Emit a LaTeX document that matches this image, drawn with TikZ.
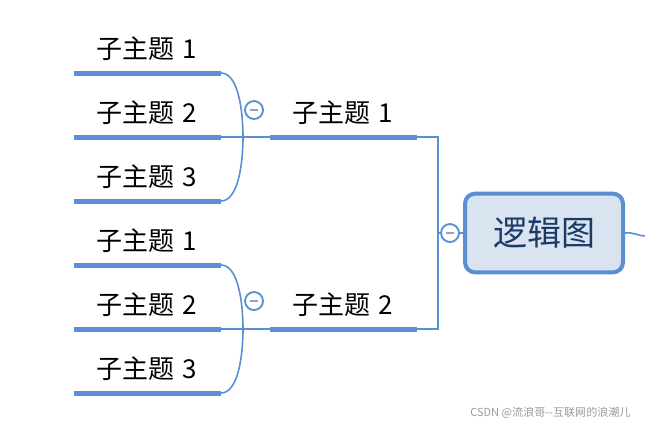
\documentclass[tikz,border=0pt]{standalone}
\usepackage{fontspec}
\newfontfamily\cjk{Noto Sans CJK SC}
\definecolor{lineblue}{HTML}{5A8FD4}
\definecolor{boxfill}{HTML}{DAE4F1}
\definecolor{textblue}{HTML}{1B3A66}
\definecolor{minusgray}{HTML}{9A9CC4}
\definecolor{wmgray}{HTML}{9A9A9A}
\begin{document}
\begin{tikzpicture}[x=0.75pt,y=-0.75pt,
  thickln/.style={line width=3.75pt, draw=lineblue},
  thinln/.style={line width=1.2pt, draw=lineblue},
  leaftext/.style={font=\cjk\fontsize{19.5}{22}\selectfont, inner sep=0pt, text=black},
  collapse/.style={circle, draw=lineblue, line width=1.4pt, fill=white, minimum size=13.5pt, inner sep=0pt,
    path picture={\draw[minusgray, line width=1.3pt] ([xshift=-3pt]path picture bounding box.center) -- ([xshift=3pt]path picture bounding box.center);}},
  central/.style={draw=lineblue, line width=3pt, fill=boxfill, rounded corners=7.5pt,
    minimum width=118.5pt, minimum height=59pt, inner sep=0pt,
    font=\cjk\fontsize{25.5}{30}\selectfont, text=textblue},
  watermark/.style={font=\cjk\fontsize{8.3}{10}\selectfont, text=wmgray, inner sep=0pt}
]
\useasboundingbox (0,0) rectangle (645,429);

% central topic
\node[central] (root) at (544,233) {逻辑图};

% mid branches
\foreach \n/\y/\t in {m1/137/1, m2/329/2} {
  \coordinate (\n s) at (270,\y);
  \coordinate (\n e) at (417,\y);
  \node[leaftext] (\n t) at (343,{\y-24}) {子主题\hspace{0.3em}\t};
}
\draw[thickln] (m1s) -- (m1e);
\draw[thickln] (m2s) -- (m2e);

% leaves
\foreach \n/\y/\t in {a1/73/1, a2/137/2, a3/201/3, b1/265/1, b2/329/2, b3/393/3} {
  \coordinate (\n s) at (74,\y);
  \coordinate (\n e) at (221,\y);
  \node[leaftext] (\n t) at (147,{\y-24.5}) {子主题\hspace{0.3em}\t};
  \draw[thickln] (\n s) -- (\n e);
}

% brackets from leaves to mid branches
\draw[thinln] (a1e) .. controls (238,73) and (243,110) .. (243,137) .. controls (243,164) and (238,201) .. (a3e);
\draw[thinln] (a2e) -- (m1s);
\draw[thinln] (b1e) .. controls (238,265) and (243,302) .. (243,329) .. controls (243,356) and (238,393) .. (b3e);
\draw[thinln] (b2e) -- (m2s);
\node[collapse] (c1) at (254,110) {};
\node[collapse] (c2) at (254,301) {};

% mid branches to root
\coordinate (vtop) at (438,137);
\coordinate (vbot) at (438,329);
\coordinate (vmid) at (438,233);
\draw[thinln] (m1e) -- (vtop) -- (vbot) -- (m2e);
\draw[thinln] (vmid) -- (root.west);
\node[collapse] (c0) at (450,233) {};

% stub to the right
\coordinate (stub) at (645,236);
\draw[thinln] (root.east) .. controls (634,232) and (638,236) .. (stub);

% watermark
\node[watermark, anchor=west] (wm) at (470,413) {CSDN @流浪哥--互联网的浪潮儿};
\end{tikzpicture}
\end{document}
